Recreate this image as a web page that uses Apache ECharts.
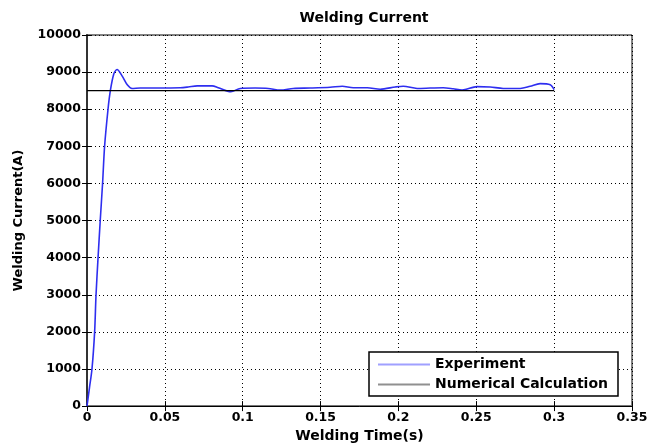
<!DOCTYPE html>
<html>
<head>
<meta charset="utf-8">
<script src="https://cdn.jsdelivr.net/npm/echarts@6/dist/echarts.min.js"></script>
<style>
  html,body{margin:0;padding:0;background:#fff;}
  #chart{width:651px;height:448px;}
</style>
</head>
<body>
<div id="chart"></div>
<script>
// experiment: time (s) and current (A)
var expTime = [0, 0.0016, 0.0032, 0.0049, 0.0058, 0.0071, 0.0085, 0.0100, 0.0113, 0.0135, 0.0150, 0.0172, 0.0193, 0.0225, 0.0260, 0.0289,
  0.0342, 0.0471, 0.0599, 0.0650, 0.0708, 0.0804, 0.0843, 0.0924, 0.0984, 0.108, 0.1164, 0.1241, 0.1325, 0.1434, 0.1562,
  0.1639, 0.171, 0.18, 0.1883, 0.198, 0.2031, 0.212, 0.2204, 0.2287, 0.2352, 0.2409, 0.2505, 0.2589, 0.2673, 0.2782,
  0.2846, 0.291, 0.2975, 0.3];
var expCurrent = [0, 500, 1000, 2000, 3000, 4000, 5000, 6000, 7000, 8000, 8500, 8950, 9070, 8900, 8650, 8560,
  8570, 8570, 8580, 8600, 8630, 8630, 8580, 8470, 8560, 8570, 8560, 8515, 8560, 8570, 8590,
  8620, 8580, 8580, 8540, 8600, 8620, 8560, 8570, 8580, 8550, 8515, 8610, 8600, 8560, 8560,
  8620, 8690, 8660, 8525];
// numerical calculation
var numTime = [0, 0.3];
var numCurrent = [8500, 8500];

var xTicks = ['0', '0.05', '0.1', '0.15', '0.2', '0.25', '0.3', '0.35'];
var yTicks = ['0', '1000', '2000', '3000', '4000', '5000', '6000', '7000', '8000', '9000', '10000'];

var expData = expTime.map(function (t, i) { return [t, expCurrent[i]]; });
var numData = numTime.map(function (t, i) { return [t, numCurrent[i]]; });

var chart = echarts.init(document.getElementById('chart'));
var font = 'DejaVu Sans, sans-serif';
var gridLine = { show: true, lineStyle: { color: '#000', type: [1, 3], width: 1 } };

chart.setOption({
  animation: false,
  backgroundColor: '#fff',
  title: {
    text: 'Welding Current',
    left: 359, top: 6, textAlign: 'center',
    textStyle: { fontFamily: font, fontSize: 14, fontWeight: 'bold', color: '#000' }
  },
  grid: { left: 87, right: 19, top: 35, bottom: 38, show: true, borderColor: '#000', borderWidth: 1 },
  legend: {
    orient: 'vertical',
    left: 369, top: 352,
    itemWidth: 52, itemHeight: 2, itemGap: 5,
    padding: [5, 10, 4, 9],
    borderColor: '#000', borderWidth: 1.5,
    backgroundColor: '#fff',
    textStyle: { fontFamily: font, fontSize: 14, fontWeight: 'bold', color: '#000', lineHeight: 15 },
    data: [
      { name: 'Experiment', icon: 'rect', itemStyle: { color: '#a0a0ff' } },
      { name: 'Numerical Calculation', icon: 'rect', itemStyle: { color: '#909090' } }
    ]
  },
  xAxis: [{
    type: 'value', min: 0, max: 0.35, interval: 0.05,
    name: 'Welding Time(s)', nameLocation: 'middle', nameGap: 20,
    nameTextStyle: { fontFamily: font, fontSize: 14, fontWeight: 'bold', color: '#000' },
    axisLine: { show: true, lineStyle: { color: '#777', width: 2 } },
    axisTick: { show: true, inside: true, length: 5, lineStyle: { color: '#000' } },
    axisLabel: { fontFamily: font, fontSize: 12.5, fontWeight: 'bold', color: '#000', margin: 5,
      formatter: function (v) { return xTicks[Math.round(v / 0.05)]; } },
    splitLine: gridLine
  }, {
    type: 'value', position: 'top', min: 0, max: 0.35, interval: 0.05,
    axisLine: { show: true, lineStyle: { color: '#000', width: 1 } },
    axisTick: { show: true, inside: true, length: 5, lineStyle: { color: '#000' } },
    axisLabel: { show: false }, splitLine: { show: false }
  }],
  yAxis: [{
    type: 'value', min: 0, max: 10000, interval: 1000,
    name: 'Welding Current(A)', nameLocation: 'middle', nameGap: 62,
    nameTextStyle: { fontFamily: font, fontSize: 13, fontWeight: 'bold', color: '#000' },
    axisLine: { show: true, lineStyle: { color: '#777', width: 2 } },
    axisTick: { show: true, inside: true, length: 5, lineStyle: { color: '#000' } },
    axisLabel: { fontFamily: font, fontSize: 12.5, fontWeight: 'bold', color: '#000', margin: 6,
      formatter: function (v) { return yTicks[Math.round(v / 1000)]; } },
    splitLine: gridLine
  }, {
    type: 'value', position: 'right', min: 0, max: 10000, interval: 1000,
    axisLine: { show: true, lineStyle: { color: '#333', width: 2 } },
    axisTick: { show: true, inside: true, length: 5, lineStyle: { color: '#000' } },
    axisLabel: { show: false }, splitLine: { show: false }
  }],
  series: [{
    name: 'Experiment', type: 'line', data: expData, smooth: 0.3,
    showSymbol: false, lineStyle: { color: '#2e2ef0', width: 1.6 }, itemStyle: { color: '#a0a0ff' }, z: 2
  }, {
    name: 'Numerical Calculation', type: 'line', data: numData,
    showSymbol: false, lineStyle: { color: '#000', width: 1.2 }, itemStyle: { color: '#909090' }, z: 3
  }]
});
</script>
</body>
</html>
